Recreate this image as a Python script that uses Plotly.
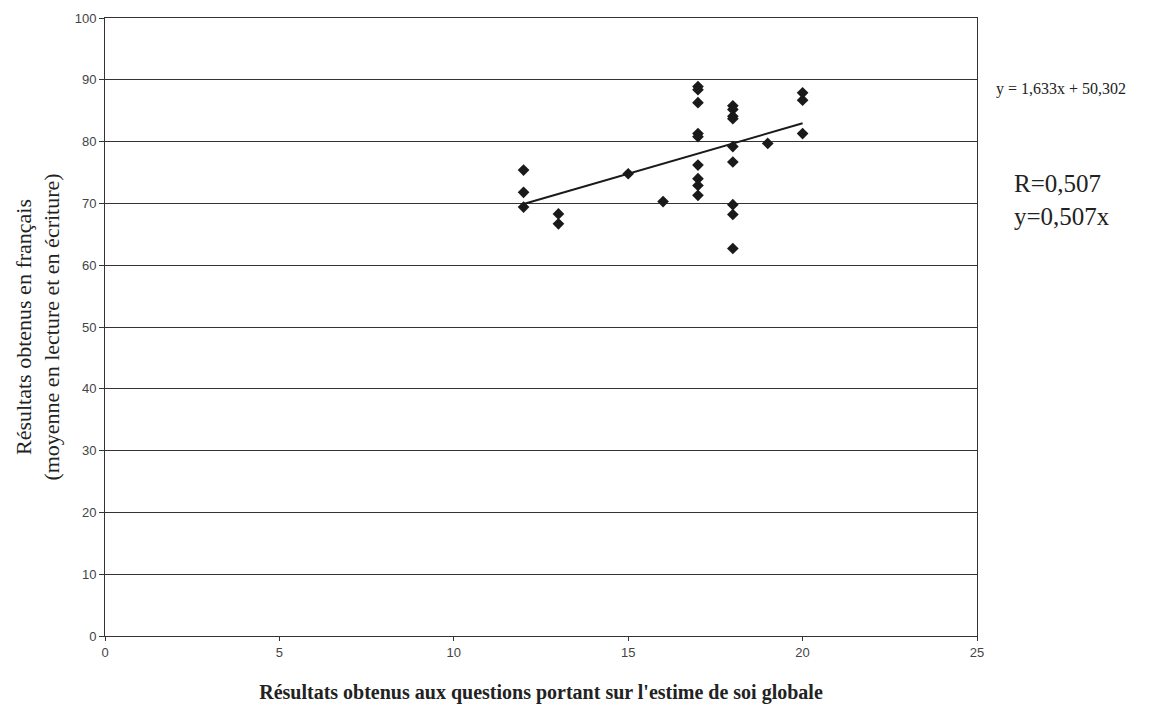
import plotly.graph_objects as go

# Data
estime_x = [12, 12, 12, 13, 13, 15, 16,
            17, 17, 17, 17, 17, 17, 17, 17, 17,
            18, 18, 18, 18, 18, 18, 18, 18, 18,
            19, 20, 20, 20]
francais_y = [75.4, 71.8, 69.4, 68.3, 66.7, 74.8, 70.3,
              88.9, 88.4, 86.3, 81.3, 80.8, 76.2, 74.0, 72.9, 71.3,
              85.8, 85.2, 84.1, 83.7, 79.2, 76.7, 69.8, 68.2, 62.7,
              79.7, 87.9, 86.7, 81.3]

slope = 1.633
intercept = 50.302
trend_x = [12, 20]
trend_y = [slope * v + intercept for v in trend_x]

x_ticks = [0, 5, 10, 15, 20, 25]
y_ticks = [0, 10, 20, 30, 40, 50, 60, 70, 80, 90, 100]

fig = go.Figure()
fig.add_trace(go.Scatter(
    x=estime_x, y=francais_y, mode="markers",
    marker=dict(symbol="diamond", size=9, color="#1a1a1a"),
    showlegend=False, hoverinfo="x+y"))
fig.add_trace(go.Scatter(
    x=trend_x, y=trend_y, mode="lines",
    line=dict(color="#1a1a1a", width=2),
    showlegend=False, hoverinfo="skip"))

fig.update_layout(
    width=1151, height=718,
    margin=dict(l=105, r=174, t=18, b=82),
    paper_bgcolor="white", plot_bgcolor="white",
    xaxis=dict(
        range=[0, 25], tickvals=x_ticks, showgrid=False, zeroline=False,
        showline=True, linecolor="#333", linewidth=1, mirror=True,
        ticks="outside", ticklen=4, tickcolor="#333",
        tickfont=dict(family="Liberation Sans, Arial", size=13, color="#444"),
        title=dict(text="<b>Résultats obtenus aux questions portant sur l'estime de soi globale</b>",
                   font=dict(family="Liberation Serif, Times New Roman", size=20, color="#222"),
                   standoff=26),
    ),
    yaxis=dict(
        range=[0, 100], tickvals=y_ticks, showgrid=True, gridcolor="#333", gridwidth=1,
        zeroline=False, showline=True, linecolor="#333", linewidth=1, mirror=True,
        ticks="outside", ticklen=5, tickcolor="#333",
        tickfont=dict(family="Liberation Sans, Arial", size=13, color="#444"),
        title=dict(text="Résultats obtenus en français<br>(moyenne en lecture et en écriture)",
                   font=dict(family="Liberation Serif, Times New Roman", size=22, color="#222"),
                   standoff=8),
    ),
    annotations=[
        dict(xref="paper", yref="paper", x=1.02, y=0.885, xanchor="left", yanchor="middle",
             text="y = 1,633x + 50,302", showarrow=False,
             font=dict(family="Liberation Serif, Times New Roman", size=16, color="#222")),
        dict(xref="paper", yref="paper", x=1.04, y=0.705, xanchor="left", yanchor="middle",
             text="R=0,507<br>y=0,507x", showarrow=False, align="left",
             font=dict(family="Liberation Serif, Times New Roman", size=25, color="#222")),
    ],
)

fig.write_html("out.html")
